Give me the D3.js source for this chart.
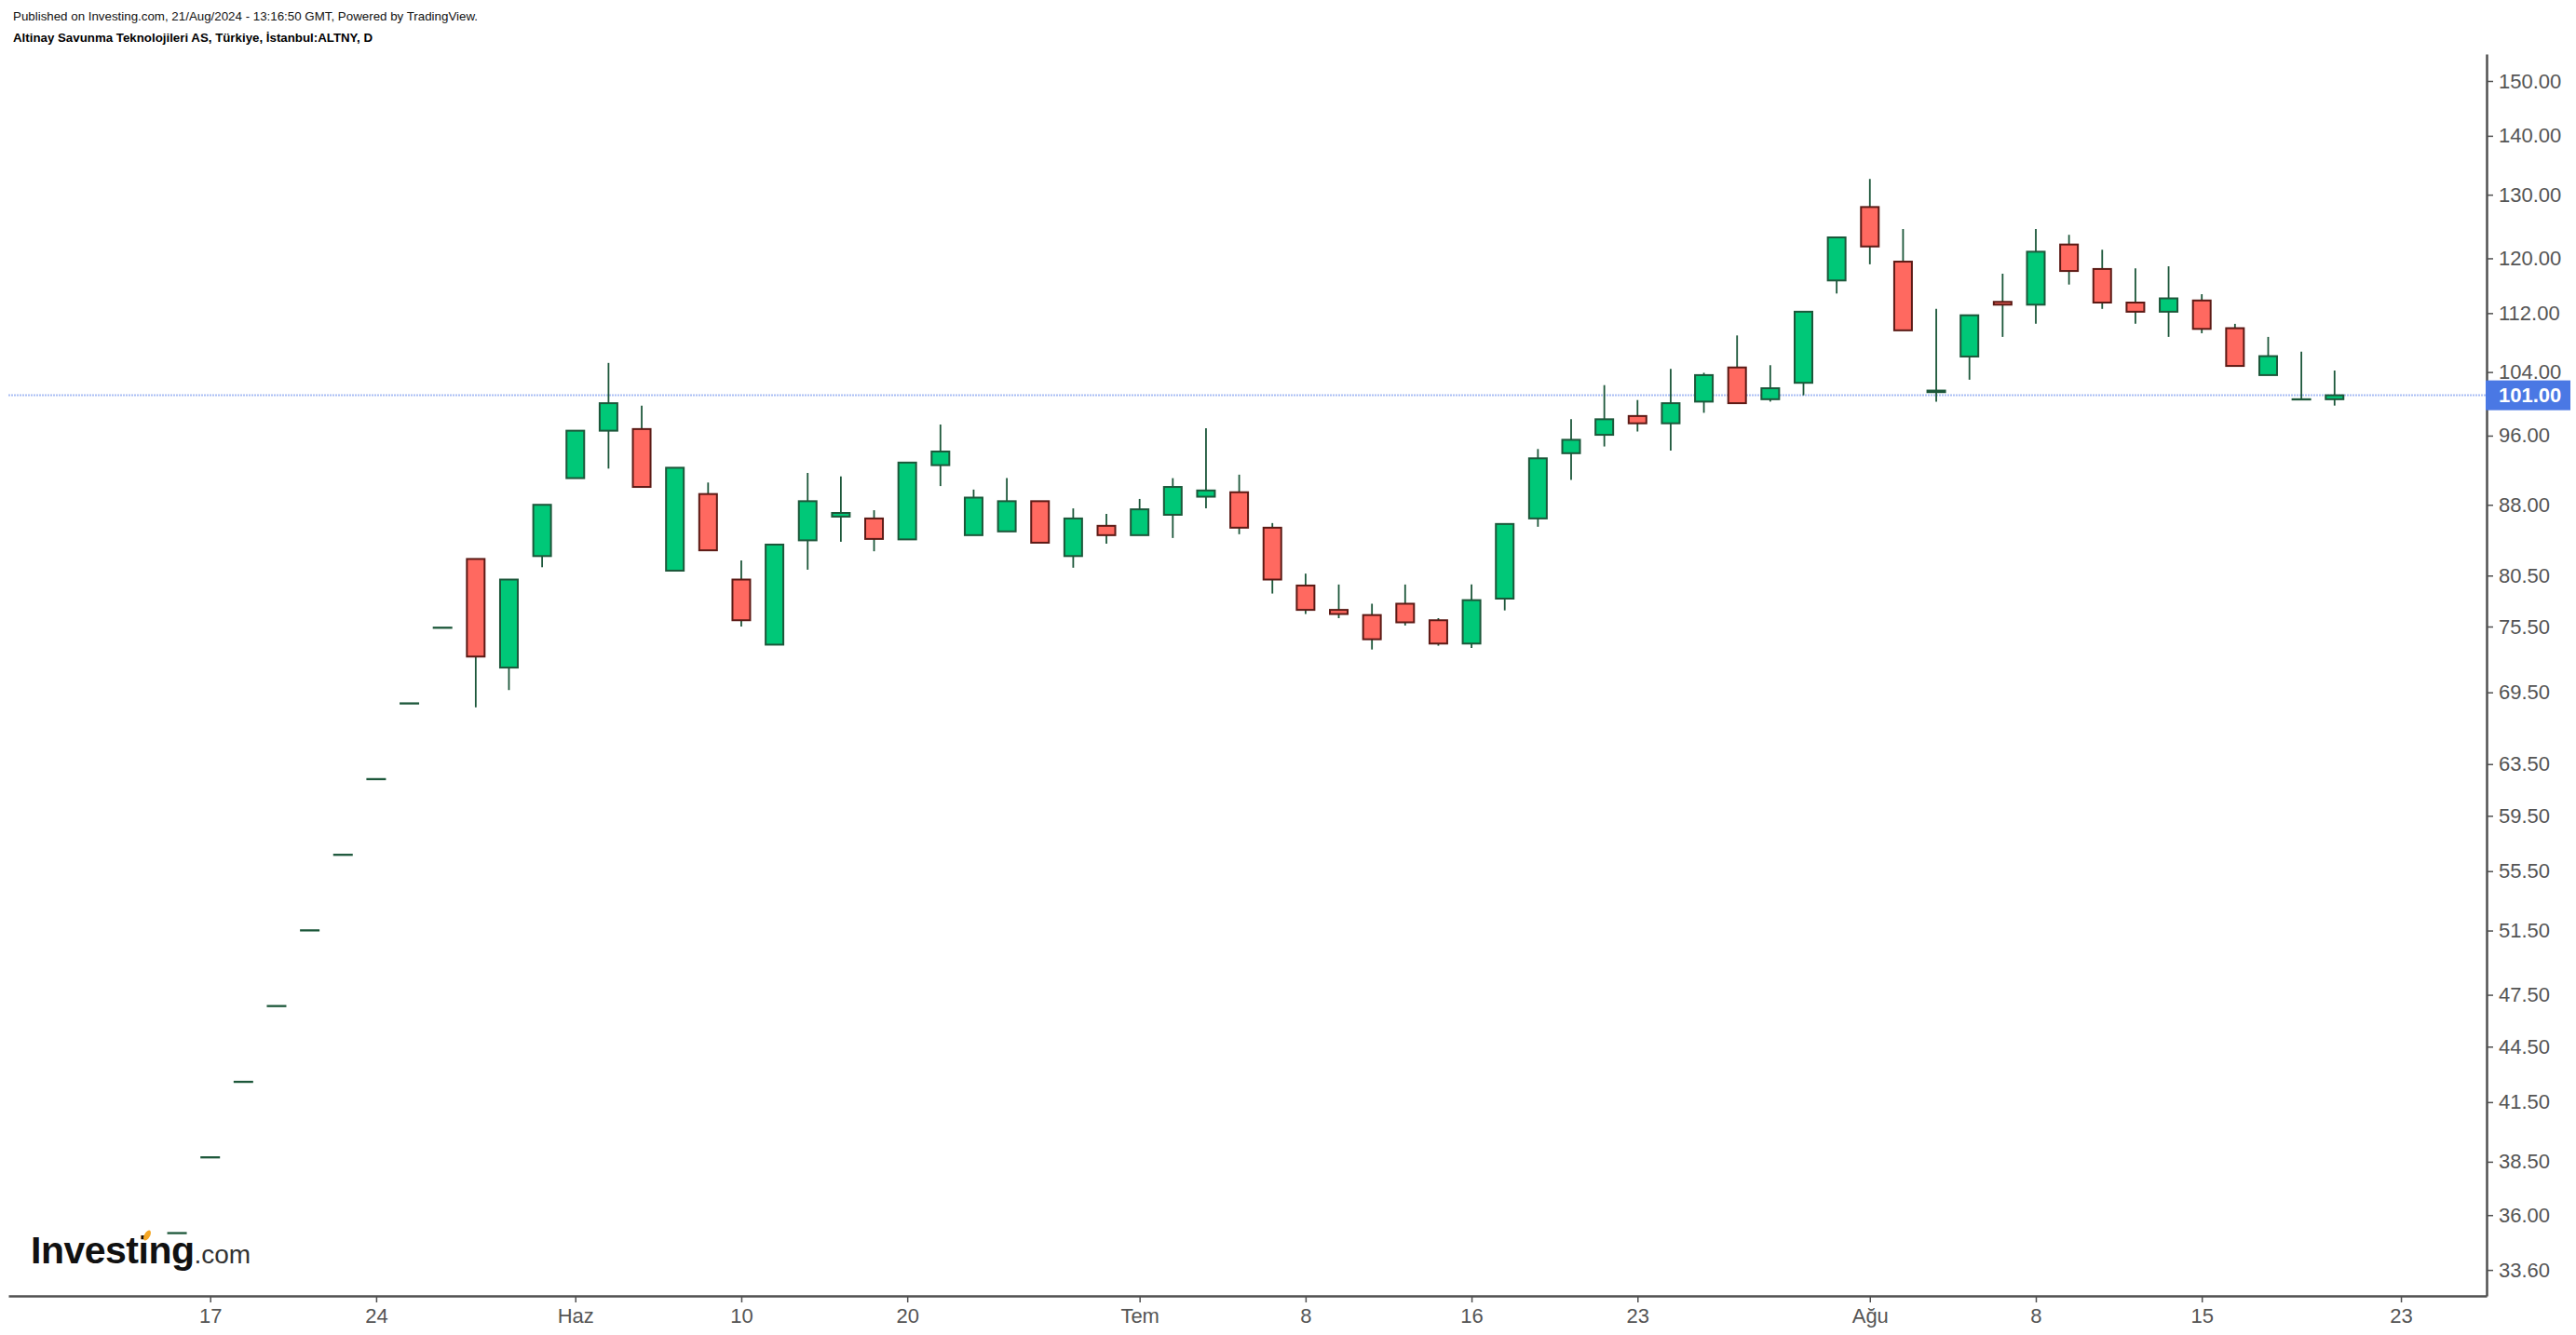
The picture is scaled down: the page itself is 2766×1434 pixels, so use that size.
<!DOCTYPE html>
<html><head><meta charset="utf-8">
<script src="https://cdn.jsdelivr.net/npm/d3@7"></script>
<style>html,body{margin:0;padding:0;background:#fff}svg{display:block}</style>
</head><body>
<svg id="chart" width="2766" height="1434"></svg>
<script>
// ---- data ----
const dates = ["2024-05-16","2024-05-17","2024-05-20","2024-05-21","2024-05-22","2024-05-23","2024-05-24","2024-05-27","2024-05-28","2024-05-29","2024-05-30","2024-05-31",
"2024-06-03","2024-06-04","2024-06-05","2024-06-06","2024-06-07","2024-06-10","2024-06-11","2024-06-12","2024-06-13","2024-06-14","2024-06-20","2024-06-21","2024-06-24","2024-06-25","2024-06-26","2024-06-27","2024-06-28",
"2024-07-01","2024-07-02","2024-07-03","2024-07-04","2024-07-05","2024-07-08","2024-07-09","2024-07-10","2024-07-11","2024-07-12","2024-07-16","2024-07-17","2024-07-18","2024-07-19","2024-07-22","2024-07-23","2024-07-24","2024-07-25","2024-07-26","2024-07-29","2024-07-30","2024-07-31",
"2024-08-01","2024-08-02","2024-08-05","2024-08-06","2024-08-07","2024-08-08","2024-08-09","2024-08-12","2024-08-13","2024-08-14","2024-08-15","2024-08-16","2024-08-19","2024-08-20","2024-08-21"];
const futureDates = ["2024-08-22","2024-08-23"];

const open  = [35.20,38.72,42.58,46.84,51.52,56.66,62.32,68.55,75.40,82.2,71.7,82.5,
91.0,96.6,96.8,81.0,89.2,80.1,73.8,84.15,86.7,86.5,84.25,92.5,84.7,85.1,88.4,82.5,85.7,
84.7,86.9,88.9,89.4,85.5,79.5,77.1,76.6,77.7,76.1,73.9,78.2,86.5,93.9,96.1,98.4,97.5,100.2,104.6,100.5,102.6,116.7,
128.0,119.5,101.4,106.05,113.6,113.2,122.1,118.4,113.5,112.2,113.8,109.9,103.6,100.5,100.5];
const high  = [35.20,38.72,42.58,46.84,51.52,56.66,62.32,68.55,75.40,82.2,80.1,88.0,
96.6,105.2,99.7,92.2,90.5,82.05,83.7,91.6,91.2,87.4,92.8,97.35,89.7,91.0,88.4,87.6,87.0,
88.65,91.0,96.9,91.4,86.0,80.7,79.6,77.7,79.6,76.3,79.6,85.9,94.4,98.0,102.3,100.4,104.4,103.9,108.9,104.9,112.2,123.2,
132.6,124.5,112.6,111.7,117.7,124.5,123.6,121.3,118.5,118.8,114.7,110.5,108.7,106.7,104.2];
const low   = [35.20,38.72,42.58,46.84,51.52,56.66,62.32,68.55,75.40,68.2,69.7,81.35,
91.0,92.1,90.0,81.0,83.1,75.5,73.8,81.1,84.0,83.0,84.25,90.1,84.7,85.1,83.9,81.3,83.8,
84.7,84.4,87.6,84.8,78.7,76.7,76.3,73.35,75.6,73.7,73.5,77.05,85.6,90.8,94.7,96.5,94.2,98.8,100.0,100.2,101.0,114.8,
119.1,109.6,100.2,103.0,108.7,110.5,116.1,112.6,110.5,108.7,109.2,104.8,103.6,100.5,99.7];
const close = [35.20,38.72,42.58,46.84,51.52,56.66,62.32,68.55,75.40,72.7,80.1,88.0,
96.6,100.0,90.0,92.2,83.1,76.1,83.7,88.4,87.1,84.3,92.8,94.1,88.8,88.4,83.9,86.5,84.7,
87.5,90.0,89.6,85.5,80.1,77.1,76.7,74.3,75.9,73.9,78.05,85.9,93.3,95.5,98.0,97.5,100.0,103.6,100.0,101.9,112.2,123.2,
121.8,109.6,101.6,111.7,113.2,121.0,118.1,113.5,112.2,114.1,109.8,104.8,106.1,100.5,101.0];

const yTicks = [150,140,130,120,112,104,96,88,80.5,75.5,69.5,63.5,59.5,55.5,51.5,47.5,44.5,41.5,38.5,36,33.6];
const xTickDates  = ["2024-05-17","2024-05-24","2024-06-03","2024-06-10","2024-06-20","2024-07-01","2024-07-08","2024-07-16","2024-07-23","2024-08-01","2024-08-08","2024-08-15","2024-08-23"];
const xTickLabels = ["17","24","Haz","10","20","Tem","8","16","23","Ağu","8","15","23"];
const lastPrice = 101.00;
const headerLine1 = "Published on Investing.com, 21/Aug/2024 - 13:16:50 GMT, Powered by TradingView.";
const headerLine2 = "Altinay Savunma Teknolojileri AS, Türkiye, İstanbul:ALTNY, D";

// ---- layout ----
const plotLeft = 9, plotRight = 2670, plotTop = 58, plotBottom = 1392;
const allDates = dates.concat(futureDates);
const idxOf = d => allDates.indexOf(d);

const x = d3.scaleLinear().domain([-5.08, 69.58]).range([plotLeft, plotRight]);
const y = d3.scaleLog().domain([155.18, 32.52]).range([plotTop, plotBottom]);

const svg = d3.select("#chart");
const FONT = "'Liberation Sans', Arial, sans-serif";

const upFill = "#00c878", downFill = "#ff6960";
const upStroke = "#1c573a", downStroke = "#5c1a15", wickColor = "#1c573a";

// header
svg.append("text").attr("x", 14).attr("y", 22).attr("font-family", FONT).attr("font-size", 13)
  .attr("fill", "#111").attr("textLength", 499).attr("lengthAdjust", "spacingAndGlyphs").text(headerLine1);
svg.append("text").attr("x", 14).attr("y", 45).attr("font-family", FONT).attr("font-size", 13)
  .attr("font-weight", "bold").attr("fill", "#000").attr("textLength", 386).attr("lengthAdjust", "spacingAndGlyphs").text(headerLine2);

// last price line
svg.append("line").attr("x1", plotLeft).attr("x2", plotRight).attr("y1", y(lastPrice)).attr("y2", y(lastPrice))
  .attr("stroke", "#a9bdf4").attr("stroke-width", 2).attr("stroke-dasharray", "2,1");

// candles
const data = dates.map((d, i) => ({d, i, o: open[i], h: high[i], l: low[i], c: close[i]}));
const bodyW = 19;
const g = svg.append("g");
g.selectAll("line.wick").data(data.filter(d => d.h > Math.max(d.o, d.c) || d.l < Math.min(d.o, d.c)))
  .join("line").attr("class", "wick")
  .attr("x1", d => x(d.i)).attr("x2", d => x(d.i))
  .attr("y1", d => y(d.h)).attr("y2", d => y(d.l))
  .attr("stroke", wickColor).attr("stroke-width", 1.8);
g.selectAll("rect.body").data(data).join("rect").attr("class", "body")
  .attr("x", d => x(d.i) - bodyW / 2).attr("width", bodyW)
  .attr("y", d => y(Math.max(d.o, d.c)))
  .attr("height", d => Math.max(0.3, Math.abs(y(d.o) - y(d.c))))
  .attr("fill", d => d.c >= d.o ? upFill : downFill)
  .attr("stroke", d => d.c >= d.o ? upStroke : downStroke)
  .attr("stroke-width", 2);

// right axis
const yAxis = d3.axisRight(y).tickValues(yTicks).tickFormat(d3.format(".2f")).tickSize(7).tickSizeOuter(0).tickPadding(6);
const ya = svg.append("g").attr("transform", `translate(${plotRight},0)`).call(yAxis);
ya.select(".domain").attr("stroke", "#505050").attr("stroke-width", 2.5);
ya.selectAll(".tick line").attr("stroke", "#505050").attr("stroke-width", 1.5);
ya.selectAll(".tick text").attr("font-family", FONT).attr("font-size", 22).attr("fill", "#555");

// bottom axis
const xAxis = d3.axisBottom(x).tickValues(xTickDates.map(idxOf)).tickFormat((d, i) => xTickLabels[i])
  .tickSize(7).tickSizeOuter(0).tickPadding(6);
const xa = svg.append("g").attr("transform", `translate(0,${plotBottom})`).call(xAxis);
xa.select(".domain").attr("stroke", "#505050").attr("stroke-width", 2.5);
xa.selectAll(".tick line").attr("stroke", "#505050").attr("stroke-width", 1.5);
xa.selectAll(".tick text").attr("font-family", FONT).attr("font-size", 22).attr("fill", "#555");

// last price label
const lp = svg.append("g");
lp.append("rect").attr("x", plotRight - 1).attr("y", y(lastPrice) - 16).attr("width", 91).attr("height", 32).attr("fill", "#4a78e4");
lp.append("text").attr("x", plotRight + 13).attr("y", y(lastPrice)).attr("dy", "0.35em")
  .attr("font-family", FONT).attr("font-size", 22).attr("font-weight", "bold").attr("fill", "#fff")
  .text(d3.format(".2f")(lastPrice));

// logo (single text element)
const logo = svg.append("g");
const lt = logo.append("text").attr("x", 33).attr("y", 1357).attr("font-family", FONT);
lt.append("tspan").attr("font-size", 41).attr("font-weight", "bold").attr("fill", "#111").attr("letter-spacing", -0.5).text("Investing");
lt.append("tspan").attr("font-size", 28).attr("fill", "#333").text(".com");
logo.append("ellipse").attr("cx", 158).attr("cy", 1327).attr("rx", 3).attr("ry", 6)
  .attr("transform", "rotate(30,158,1327)").attr("fill", "#f5a623");
</script>
</body></html>
